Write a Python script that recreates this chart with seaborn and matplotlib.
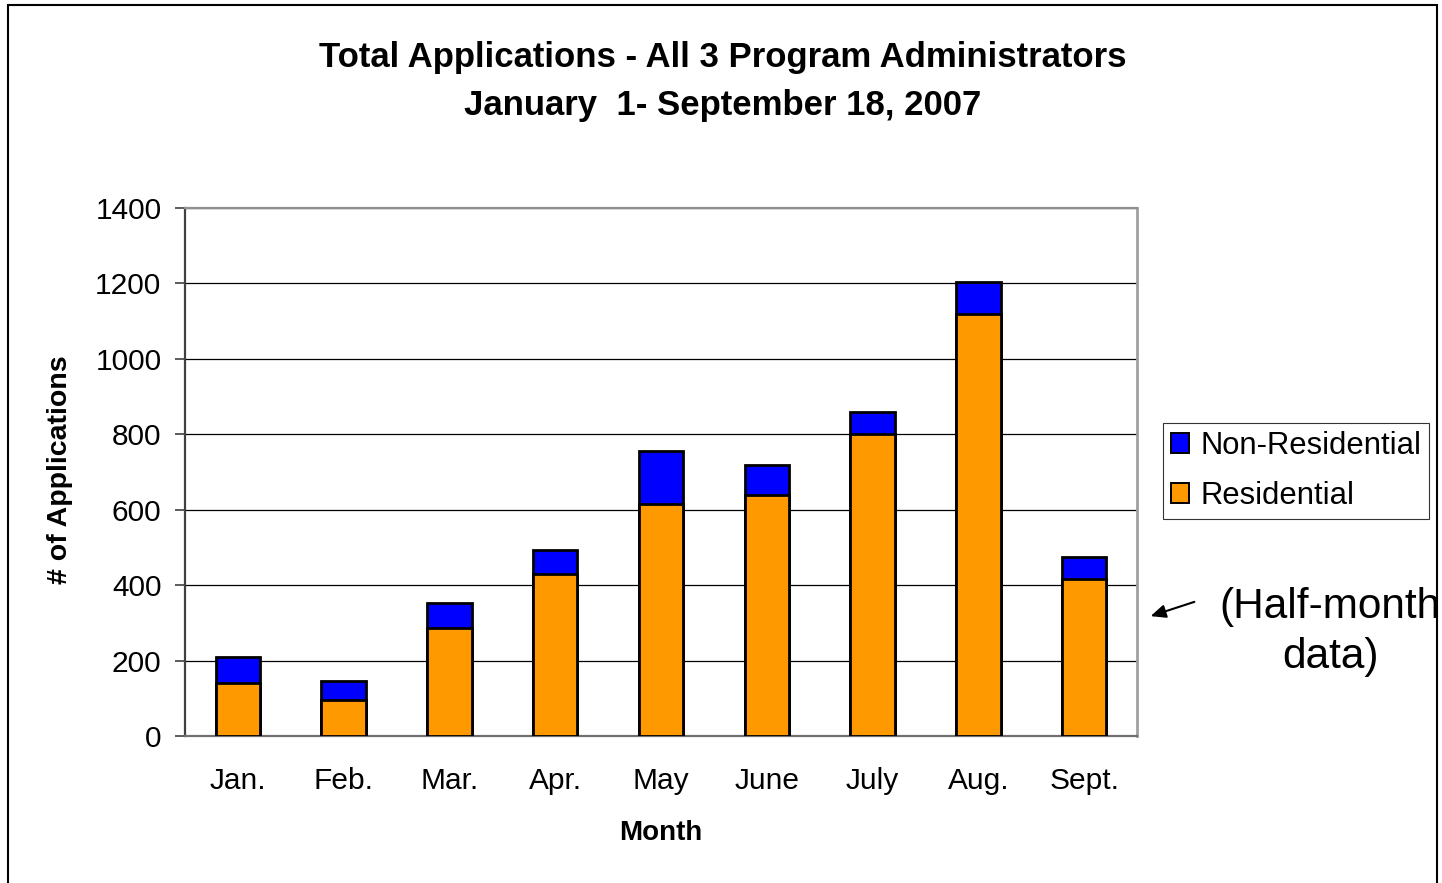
import matplotlib
matplotlib.use("Agg")
import matplotlib.pyplot as plt
import seaborn as sns
import pandas as pd
from matplotlib.patches import Patch, Rectangle, FancyArrowPatch

months = ["Jan.", "Feb.", "Mar.", "Apr.", "May", "June", "July", "Aug.", "Sept."]
residential = [140, 95, 287, 429, 614, 639, 800, 1120, 415]
non_residential = [70, 52, 66, 65, 142, 79, 59, 85, 59]
yticks = [0, 200, 400, 600, 800, 1000, 1200, 1400]

df = pd.DataFrame({"Month": months, "Residential": residential,
                   "Non-Residential": non_residential})
df["Total"] = df["Residential"] + df["Non-Residential"]

sns.set_style("white")
plt.rcParams["font.family"] = ["Liberation Sans", "DejaVu Sans"]
plt.rcParams["text.color"] = "black"
plt.rcParams["axes.labelcolor"] = "black"
plt.rcParams["xtick.color"] = "black"
plt.rcParams["ytick.color"] = "black"

W, H = 1442, 883
fig = plt.figure(figsize=(W / 100, H / 100), dpi=100)
ax = fig.add_axes([185 / W, 1 - 736 / H, (1137 - 185) / W, (736 - 208) / H])

BLUE = "#0000FF"
ORANGE = "#FF9900"

sns.barplot(data=df, x="Month", y="Total", color=BLUE, saturation=1,
            width=0.42, edgecolor="black", linewidth=2.0, ax=ax, zorder=3)
sns.barplot(data=df, x="Month", y="Residential", color=ORANGE, saturation=1,
            width=0.42, edgecolor="black", linewidth=2.0, ax=ax, zorder=4)

ax.set_xlim(-0.5, len(months) - 0.5)
ax.set_ylim(0, 1400)
ax.set_yticks(yticks)
ax.set_yticklabels([str(v) for v in yticks], fontsize=21.5)
ax.yaxis.grid(True, color="black", linewidth=0.9)
ax.set_axisbelow(True)
ax.set_xlabel("")
ax.set_ylabel("")

ax.set_xticks(range(len(months)))
ax.set_xticklabels(months, fontsize=21.5)
ax.set_xticks([i - 0.5 for i in range(len(months) + 1)], minor=True)
ax.tick_params(axis="x", which="major", length=0, pad=22, labelcolor="black")
ax.tick_params(axis="x", which="minor", length=7, width=1.2, color="#404040", direction="out")
ax.tick_params(axis="y", which="major", length=7, width=1.2, color="#404040",
               direction="out", pad=10, left=True, labelcolor="black")

for side, col, lw in [("left", "#404040", 1.6), ("bottom", "#707070", 1.6),
                      ("right", "#A0A0A0", 2.0), ("top", "#909090", 1.6)]:
    ax.spines[side].set_visible(True)
    ax.spines[side].set_color(col)
    ax.spines[side].set_linewidth(lw)

fig.text(723 / W, 1 - 57 / H, "Total Applications - All 3 Program Administrators",
         ha="center", va="center", fontsize=25, fontweight="bold", color="black")
fig.text(723 / W, 1 - 105 / H, "January  1- September 18, 2007",
         ha="center", va="center", fontsize=25, fontweight="bold", color="black")
fig.text(661 / W, 1 - 833 / H, "Month", ha="center", va="center",
         fontsize=20, fontweight="bold", color="black")
fig.text(60 / W, 1 - 470 / H, "# of Applications", ha="center", va="center",
         rotation=90, fontsize=20.5, fontweight="bold", color="black")

handles = [Patch(facecolor=BLUE, edgecolor="black", linewidth=1.4, label="Non-Residential"),
           Patch(facecolor=ORANGE, edgecolor="black", linewidth=1.4, label="Residential")]
leg = fig.legend(handles=handles, loc="upper left", bbox_to_anchor=(1163 / W, 1 - 423 / H),
                 fontsize=22.3, frameon=True, fancybox=False, handlelength=0.6,
                 handleheight=0.6, handletextpad=0.35, borderpad=0.25, labelspacing=0.65,
                 borderaxespad=0)
leg.get_frame().set_edgecolor("black")
leg.get_frame().set_linewidth(0.8)
for t in leg.get_texts():
    t.set_color("black")

fig.text(1330 / W, 1 - 607 / H, "(Half-month", ha="center", va="center", fontsize=30.5,
         color="black")
fig.text(1330 / W, 1 - 657 / H, "data)", ha="center", va="center", fontsize=30.5,
         color="black")
fig.add_artist(FancyArrowPatch(
    (1197 / W, 1 - 601 / H), (1148 / W, 1 - 617 / H), transform=fig.transFigure,
    arrowstyle="-|>,head_length=9,head_width=4", color="black", linewidth=1.5,
    mutation_scale=1))

fig.add_artist(Rectangle((8 / W, -0.05), (1437 - 8) / W, 1.05 - 5 / H,
                         transform=fig.transFigure, fill=False, edgecolor="black",
                         linewidth=1.5))

fig.savefig("out.png", dpi=100, facecolor="white")
